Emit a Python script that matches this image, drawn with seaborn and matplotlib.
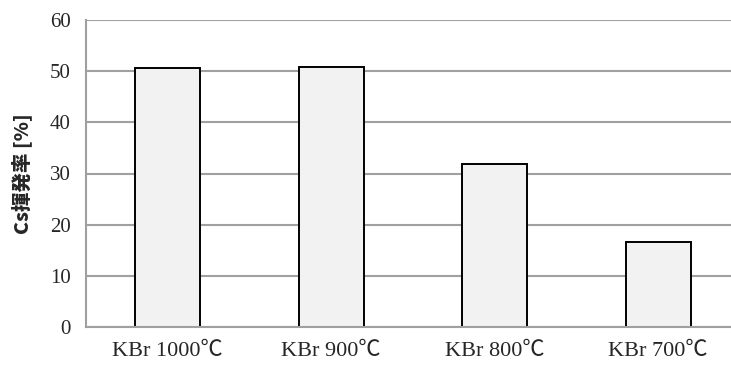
import matplotlib.pyplot as plt
import pandas as pd
import seaborn as sns

conditions = ["KBr 1000℃", "KBr 900℃", "KBr 800℃", "KBr 700℃"]
volatility = [50.6, 50.9, 31.9, 16.6]
y_ticks = [0, 10, 20, 30, 40, 50, 60]

sns.set_style("white")
plt.rcParams["font.family"] = ["Liberation Serif", "Noto Sans CJK JP", "DejaVu Sans"]

df = pd.DataFrame({"condition": conditions, "volatility": volatility})

fig = plt.figure(figsize=(7.31, 3.69), dpi=100)
ax = fig.add_axes([86 / 731, 42 / 369, 654 / 731, 307 / 369])

grid_color = "#a0a0a0"
ax.set_axisbelow(True)
ax.yaxis.grid(True, color=grid_color, linewidth=1.5)

sns.barplot(
    data=df, x="condition", y="volatility", ax=ax,
    color="#f2f2f2", edgecolor="black", linewidth=1.4, width=0.4,
    saturation=1,
)

ax.set_xlim(-0.5, 3.5)
ax.set_ylim(0, 60)
ax.set_yticks(y_ticks)
# category boundaries get the tick marks, labels sit on the bar centres
ax.set_xticks([-0.5, 0.5, 1.5, 2.5, 3.5])
ax.set_xticklabels([])
ax.set_xticks(range(len(conditions)), minor=True)
ax.set_xticklabels(conditions, minor=True, fontsize=16)
ax.tick_params(axis="x", which="minor", length=0, pad=11)
ax.tick_params(axis="x", which="major", length=5, width=1.5, color=grid_color, direction="out")
ax.tick_params(axis="y", length=5, width=1.5, color=grid_color, direction="out", labelsize=15, pad=6)

ax.set_xlabel("")
ax.set_ylabel("Cs揮発率 [%]", fontsize=14, fontweight="black",
              family=["Noto Sans CJK JP", "DejaVu Sans"], va="center")
ax.yaxis.set_label_coords(-(86 - 22) / 654, 0.5)

for side in ["top", "right"]:
    ax.spines[side].set_visible(False)
for side in ["left", "bottom"]:
    ax.spines[side].set_color(grid_color)
    ax.spines[side].set_linewidth(1.5)

fig.savefig("out.png", dpi=100)
